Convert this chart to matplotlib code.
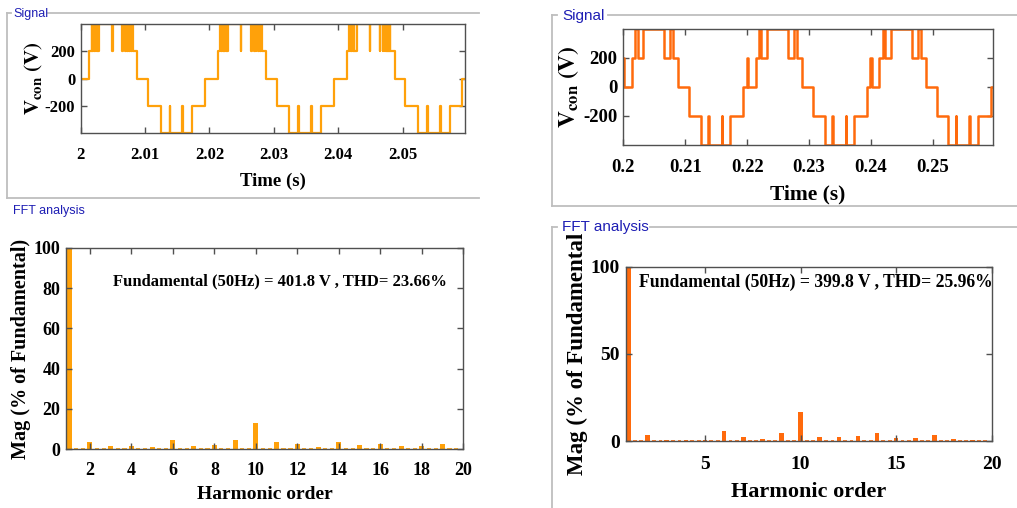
import numpy as np
import matplotlib
matplotlib.use('Agg')
import matplotlib.pyplot as plt
from matplotlib.lines import Line2D

plt.rcParams['font.family'] = ['Liberation Serif', 'DejaVu Serif']
plt.rcParams['mathtext.fontset'] = 'stix'
plt.rcParams['axes.unicode_minus'] = False

# converter output voltage, one fundamental cycle (switching instant from cycle start [s], level [V])
left_t0 = 2.0
left_edges = [0.0, 0.0013, 0.0017, 0.0018, 0.0019, 0.00205, 0.0022, 0.0023, 0.0024, 0.0025,
              0.0029, 0.0049, 0.00496, 0.00648, 0.00654, 0.0069, 0.0070, 0.0072, 0.0073,
              0.0075, 0.0077, 0.0078, 0.0080, 0.0081, 0.0088, 0.01045, 0.0124, 0.0138,
              0.0139, 0.0158, 0.0159, 0.0173, 0.0193]
left_levels = [0, 200, 400, 200, 400, 200, 400, 200, 400, 200,
               400, 200, 400, 200, 400, 200, 400, 200, 400,
               200, 400, 200, 400, 200, 0, -200, -400, -200,
               -400, -200, -400, -200, 0]

right_t0 = 0.2
right_edges = [0.0, 0.0001, 0.00135, 0.0019, 0.0023, 0.0032, 0.0066, 0.0076, 0.0081,
               0.0089, 0.0106, 0.0125, 0.0137, 0.0138, 0.0159, 0.0160, 0.0173,
               0.0194, 0.0199]
right_levels = [200, 0, 200, 400, 200, 400, 200, 400, 200,
                0, -200, -400, -200, -400, -200, -400, -200,
                0, 200]

period = 0.02
n_cycles = 3

# harmonic spectrum (% of fundamental)
orders = list(range(1, 20))
left_mag = [100, 3.8, 1.7, 1.7, 1.2, 4.8, 1.7, 2.0, 4.8, 13.2,
            3.8, 2.6, 1.2, 3.8, 2.1, 2.6, 1.7, 1.7, 2.6]
right_mag = [100, 3.4, 0.3, 0.3, 0.8, 5.9, 2.3, 1.3, 4.4, 16.6,
             2.3, 2.3, 2.9, 4.8, 1.7, 1.5, 3.2, 1.1, 0.8]
# interharmonic bins (1/3 harmonic resolution)
inter_orders = [k + f for k in range(1, 20) for f in (1 / 3, 2 / 3)]
left_inter = [0.8, 0.8, 0.8, 0.8, 0.8, 0.8, 0.8, 0.8, 0.8, 0.8, 0.8, 0.8, 0.8,
              0.8, 0.8, 0.8, 0.8, 0.8, 0.8, 0.8, 0.8, 0.8, 0.8, 0.8, 0.8, 0.8,
              0.8, 0.8, 0.8, 0.8, 0.8, 0.8, 0.8, 0.8, 0.8, 0.8, 0.8, 0.8]
right_inter = [0.8, 0.8, 0.8, 0.8, 0.8, 0.8, 0.8, 0.8, 0.8, 0.8, 0.8, 0.8, 0.8,
               0.8, 0.8, 0.8, 0.8, 0.8, 0.8, 0.8, 0.8, 0.8, 0.8, 0.8, 0.8, 0.8,
               0.8, 0.8, 0.8, 0.8, 0.8, 0.8, 0.8, 0.8, 0.8, 0.8, 0.8, 0.8]

left_note = 'Fundamental (50Hz) = 401.8 V , THD= 23.66%'
right_note = 'Fundamental (50Hz) = 399.8 V , THD= 25.96%'

c_left = '#FFA10A'
c_right = '#FF6A0C'
frame_c = '#BEBEBE'
title_c = '#1E1EB4'
spine_c = '#505050'

W, H = 1017, 508
fig = plt.figure(figsize=(W / 100, H / 100), dpi=100)


def px_axes(x0, y0, x1, y1):
    return fig.add_axes([x0 / W, 1 - y1 / H, (x1 - x0) / W, (y1 - y0) / H])


def hline(x0, x1, y):
    fig.add_artist(Line2D([x0 / W, x1 / W], [1 - y / H, 1 - y / H], color=frame_c, lw=1.3))


def vline(x, y0, y1):
    fig.add_artist(Line2D([x / W, x / W], [1 - y0 / H, 1 - y1 / H], color=frame_c, lw=1.3))


def style(ax, size, xpad):
    for s in ax.spines.values():
        s.set_color(spine_c)
        s.set_linewidth(1.0)
    ax.tick_params(direction='in', top=True, right=True, length=4, width=1.0,
                   color=spine_c, labelsize=size)
    ax.tick_params(axis='x', pad=xpad)
    ax.tick_params(axis='y', pad=4)
    for lab in ax.get_xticklabels() + ax.get_yticklabels():
        lab.set_fontweight('bold')


def waveform(t0, edges, levels):
    t, v = [], []
    for c in range(n_cycles):
        for e, lv in zip(edges, levels):
            t.append(t0 + c * period + e)
            v.append(lv)
    t.append(t0 + n_cycles * period)
    v.append(levels[-1])
    return np.array(t), np.array(v)


# ---- signal panels
ax1 = px_axes(80.7, 24, 465, 133.3)
t, v = waveform(left_t0, left_edges, left_levels)
ax1.plot(t, v, drawstyle='steps-post', color=c_left, lw=1.6)
ax1.set_xlim(2.0, 2.0597)
ax1.set_ylim(-400, 400)
ax1.set_xticks([2.0, 2.01, 2.02, 2.03, 2.04, 2.05])
ax1.set_xticklabels(['2', '2.01', '2.02', '2.03', '2.04', '2.05'])
ax1.set_yticks([-200, 0, 200])
style(ax1, 12, 10)
ax1.set_xlabel('Time (s)', fontsize=13.5, fontweight='bold', labelpad=7)
ax1.set_ylabel(r'$\mathbf{V_{con}}\ \mathbf{(V)}$', fontsize=15, labelpad=0)

ax2 = px_axes(623.3, 29, 993, 145)
t, v = waveform(right_t0, right_edges, right_levels)
ax2.plot(t, v, drawstyle='steps-post', color=c_right, lw=1.8)
ax2.set_xlim(0.2, 0.2597)
ax2.set_ylim(-400, 400)
ax2.set_xticks([0.2, 0.21, 0.22, 0.23, 0.24, 0.25])
ax2.set_xticklabels(['0.2', '0.21', '0.22', '0.23', '0.24', '0.25'])
ax2.set_yticks([-200, 0, 200])
style(ax2, 13.5, 10)
ax2.set_xlabel('Time (s)', fontsize=15.5, fontweight='bold', labelpad=6)
ax2.set_ylabel(r'$\mathbf{V_{con}}\ \mathbf{(V)}$', fontsize=17, labelpad=2)

# ---- FFT panels
ax3 = px_axes(65.7, 247.7, 463.3, 449.3)
ax3.bar(inter_orders, left_inter, width=0.2, color=c_left, alpha=0.85)
ax3.bar(orders, left_mag, width=0.24, color=c_left)
ax3.set_xlim(0.83, 20)
ax3.set_ylim(0, 100)
ax3.set_xticks(range(2, 21, 2))
ax3.set_yticks(range(0, 101, 20))
style(ax3, 13, 9)
ax3.set_xlabel('Harmonic order', fontsize=14, fontweight='bold', labelpad=5)
ax3.set_ylabel('Mag (% of Fundamental)', fontsize=14.5, fontweight='bold', labelpad=2)
ax3.text(0.54, 0.835, left_note, transform=ax3.transAxes, ha='center', va='center',
         fontsize=12, fontweight='bold')

ax4 = px_axes(625.7, 266.7, 991.7, 441)
ax4.bar(inter_orders, right_inter, width=0.2, color=c_right, alpha=0.85)
ax4.bar(orders, right_mag, width=0.24, color=c_right)
ax4.set_xlim(0.85, 20)
ax4.set_ylim(0, 100)
ax4.set_xticks([5, 10, 15, 20])
ax4.set_yticks([0, 50, 100])
style(ax4, 14, 11)
ax4.set_xlabel('Harmonic order', fontsize=16, fontweight='bold', labelpad=6)
ax4.set_ylabel('Mag (% of Fundamental', fontsize=16.5, fontweight='bold', labelpad=2)
ax4.text(0.52, 0.91, right_note, transform=ax4.transAxes, ha='center', va='center',
         fontsize=12.7, fontweight='bold')

# ---- panel frames and captions
hline(7, 11, 13)
hline(48, 479, 13)
hline(7, 479, 198)
vline(7, 13, 198)
fig.text(13 / W, 1 - 14 / H, 'Signal', color=title_c, fontsize=9,
         family='Liberation Sans', ha='left', va='center')
fig.text(13 / W, 1 - 211 / H, 'FFT analysis', color=title_c, fontsize=9,
         family='Liberation Sans', ha='left', va='center')

hline(552, 557, 15)
hline(608, W, 15)
hline(552, W, 206)
vline(552, 15, 206)
hline(552, 557, 227)
hline(650, W, 227)
vline(552, 227, H)
fig.text(562 / W, 1 - 16 / H, 'Signal', color=title_c, fontsize=11,
         family='Liberation Sans', ha='left', va='center')
fig.text(562 / W, 1 - 227 / H, 'FFT analysis', color=title_c, fontsize=11,
         family='Liberation Sans', ha='left', va='center')

fig.savefig('out.png', dpi=100)
